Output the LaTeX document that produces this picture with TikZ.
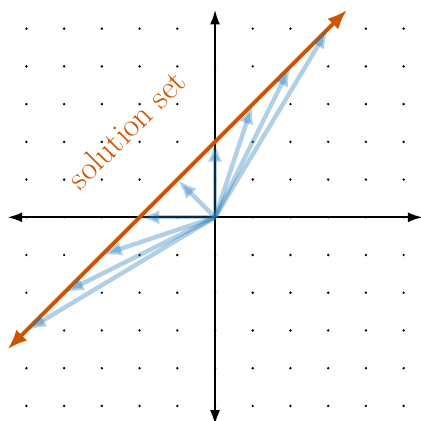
\documentclass[tikz,border=0pt]{standalone}
\usepackage{amsmath,amssymb}
\usepackage{tikz}
\usetikzlibrary{positioning,arrows.meta}
\definecolor{solorange}{RGB}{204,85,0}
\definecolor{vecblue}{RGB}{31,119,180}

\begin{document}
\begin{tikzpicture}[
    axis/.style={line width=1.5pt, {Latex[length=11pt,width=7.5pt]}-{Latex[length=11pt,width=7.5pt]}},
    solline/.style={line width=3pt, solorange, {Latex[length=15pt,width=11.5pt]}-{Latex[length=15pt,width=11.5pt]}},
    solvec/.style={line width=3.3pt, vecblue, opacity=0.35, -{Latex[length=15pt,width=11pt]}}]
      \useasboundingbox (-5.70,-5.40) rectangle (5.44,5.76);
      \foreach \x in {-5,...,5}
        \foreach \y in {-5,...,5}
          \fill (\x,\y) circle (1pt);
      \coordinate (O) at (0,0);
      \coordinate (xmin) at (-5.5,0);
      \coordinate (xmax) at (5.5,0);
      \coordinate (ymin) at (0,-5.5);
      \coordinate (ymax) at (0,5.5);
      \draw[axis] (xmin) -- (xmax);
      \draw[axis] (ymin) -- (ymax);
      % the line y = x + 2
      \coordinate (sollo) at (-5.5,-3.5);
      \coordinate (solhi) at (3.5,5.5);
      \draw[solline] (sollo) -- (solhi);
      \node[solorange, rotate=45, font=\fontsize{25}{30}\selectfont] (sollabel) at (-2.35,2.33) {solution set};
      \foreach \t in {-5,...,3}
      {
        \coordinate (p\t) at (\t,{\t+2});
        \draw[solvec] (O) -- (p\t);
      }
    \end{tikzpicture}
\end{document}
